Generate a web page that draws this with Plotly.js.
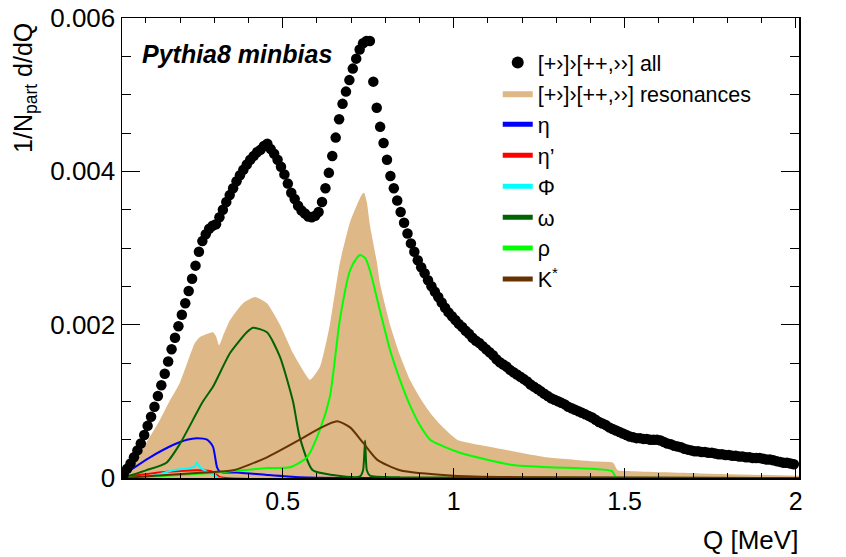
<!DOCTYPE html>
<html><head><meta charset="utf-8">
<script src="https://cdn.plot.ly/plotly-3.0.1.min.js"></script>
<style>html,body{margin:0;padding:0;background:#fff}#chart{width:846px;height:557px}</style>
</head><body><div id="chart"></div>
<script>
// "all" pairs: uniform bins starting at allX0 with width allDx
const allX0 = 0.035, allDx = 0.01;
const allY = [
0.00005,0.00012,0.00019,0.00027,0.00036,0.00045,0.00056,0.00068,0.0008,0.00093,
0.00107,0.00121,0.00136,0.00152,0.00168,0.00183,0.00198,0.00213,0.00228,0.00244,
0.0026,0.00277,0.00295,0.00309,0.00318,0.00325,0.00329,0.00331,0.0034,0.0035,
0.0036,0.00369,0.00378,0.00387,0.00395,0.00402,0.00409,0.00415,0.0042,0.00425,
0.00428,0.00433,0.00436,0.00429,0.00423,0.00415,0.00406,0.00396,0.00384,0.00372,
0.00364,0.00355,0.00349,0.00345,0.00341,0.0034,0.00342,0.00347,0.0036,0.00378,
0.00398,0.0042,0.00444,0.00468,0.00488,0.00504,0.00519,0.00534,0.00547,0.00559,
0.00567,0.0057,0.0057,0.00517,0.00483,0.00458,0.00437,0.00415,0.00394,0.00378,
0.00362,0.00347,0.00333,0.00319,0.00306,0.00295,0.00284,0.00275,0.00267,0.00258,
0.0025,0.00243,0.00236,0.00229,0.00222,0.00216,0.00211,0.00206,0.00201,0.00197,
0.00192,0.00188,0.00183,0.00179,0.00176,0.00172,0.00168,0.00164,0.0016,0.00155,
0.00151,0.00148,0.00145,0.00141,0.00138,0.00135,0.00132,0.00129,0.00126,0.00122,
0.00119,0.00116,0.00113,0.0011,0.00107,0.00104,0.00102,0.001,0.00098,0.00096,
0.00093,0.00091,0.00089,0.00087,0.00085,0.00083,0.00081,0.00079,0.00076,0.00073,
0.00071,0.00069,0.00066,0.00064,0.00062,0.0006,0.00058,0.00056,0.00054,0.00053,
0.00052,0.00052,0.00051,0.00051,0.0005,0.0005,0.0005,0.00049,0.00047,0.00045,
0.00044,0.00042,0.00041,0.0004,0.00038,0.00037,0.00036,0.00035,0.00035,0.00034,
0.00034,0.00033,0.00033,0.00032,0.00031,0.00031,0.0003,0.0003,0.00029,0.00029,
0.00028,0.00028,0.00027,0.00027,0.00026,0.00026,0.00026,0.00025,0.00024,0.00024,
0.00023,0.00022,0.00021,0.0002,0.0002,0.00019,0.00018];

// resonances sum (filled)
const resX = [0.03,0.06,0.1,0.14,0.17,0.2,0.243,0.258,0.273,0.296,0.305,0.314,0.325,0.346,0.384,0.419,0.454,0.492,0.53,0.56,0.58,0.609,0.638,0.667,0.697,0.717,0.732,0.738,0.746,0.755,0.776,0.784,0.814,0.843,0.872,0.901,0.931,0.96,1.01,1.077,1.173,1.273,1.4,1.466,1.48,1.507,1.72,2.01];
const resY = [0,0.00018,0.00045,0.00075,0.00101,0.00125,0.00176,0.00184,0.00187,0.0019,0.00185,0.00173,0.00185,0.00206,0.00228,0.00236,0.00228,0.002,0.00163,0.0014,0.00128,0.00145,0.002,0.0028,0.00334,0.00356,0.0037,0.00372,0.0036,0.0033,0.0028,0.00255,0.002,0.0016,0.00128,0.00105,0.00085,0.0007,0.0005,0.00043,0.00035,0.00027,0.00022,0.0002,0.0001,0.00009,0.00006,0.00003];

const etaX = [0.03,0.112,0.179,0.22,0.249,0.279,0.296,0.308,0.317,0.375,0.454,0.55,0.7,2.01];
const etaY = [0.00003,0.00027,0.00043,0.0005,0.00052,0.0005,0.00041,0.00014,0.00008,0.00007,0.00004,0.00001,0,0];

const etapX = [0.03,0.162,0.258,0.296,0.308,0.317,2.01];
const etapY = [0.00001,0.00008,0.0001,0.00008,0.00004,0.00001,0];

const phiX = [0.03,0.12,0.179,0.229,0.243,0.249,0.258,0.279,0.302,0.311,2.01];
const phiY = [0,0.00003,0.0001,0.00013,0.00015,0.0002,0.00014,0.00008,0.00004,0,0];

const omegaX = [0.03,0.1,0.16,0.2,0.267,0.296,0.346,0.395,0.413,0.454,0.492,0.53,0.55,0.588,0.647,0.726,0.735,0.741,0.746,0.755,0.843,2.01];
const omegaY = [0,0.0001,0.0002,0.00045,0.001,0.00119,0.00163,0.0019,0.00196,0.0019,0.00158,0.001,0.00053,0.0001,0.00004,0.00002,0.0001,0.00049,0.0001,0.00003,0.00001,0];

const rhoX = [0.03,0.2,0.308,0.454,0.521,0.571,0.609,0.638,0.667,0.697,0.717,0.726,0.741,0.755,0.784,0.814,0.843,0.872,0.901,0.931,1.018,1.173,1.281,1.463,1.477,2.01];
const rhoY = [0,0.00004,0.00007,0.00013,0.00014,0.00027,0.00063,0.00106,0.00206,0.00271,0.00287,0.00291,0.00287,0.00271,0.00219,0.00167,0.00128,0.00095,0.00069,0.0005,0.00033,0.00017,0.00014,0.00009,0,0];

const kstX = [0.03,0.258,0.355,0.454,0.55,0.609,0.659,0.697,0.735,0.776,0.843,1.0,1.2,2.01];
const kstY = [0,0.00007,0.0001,0.00027,0.0005,0.00065,0.00074,0.00066,0.00046,0.00024,0.0001,0.00003,0.00001,0];

const labels = {
  all: '[+›]›[++,››] all',
  res: '[+›]›[++,››] resonances',
  eta: 'η', etap: 'η’', phi: 'Φ', omega: 'ω', rho: 'ρ', kst: 'K<sup>*</sup>'
};

const FONT = 'Liberation Sans, Arial, Helvetica, sans-serif';

function lineTrace(x, y, name, color, rank) {
  return {x: x, y: y, name: name, type: 'scatter', mode: 'lines',
    line: {color: color, width: 2, shape: 'spline', smoothing: 0.6},
    legendrank: rank, hoverinfo: 'skip'};
}

const traces = [
  {x: resX, y: resY, name: labels.res, type: 'scatter', mode: 'lines', fill: 'tozeroy',
   fillcolor: '#deb887', line: {color: '#deb887', width: 0, shape: 'spline', smoothing: 0.5}, legendrank: 2},
  lineTrace(etaX, etaY, labels.eta, '#0000ff', 3),
  lineTrace(etapX, etapY, labels.etap, '#ff0000', 4),
  lineTrace(phiX, phiY, labels.phi, '#00ffff', 5),
  lineTrace(omegaX, omegaY, labels.omega, '#006400', 6),
  lineTrace(rhoX, rhoY, labels.rho, '#00ff00', 7),
  lineTrace(kstX, kstY, labels.kst, '#663300', 8),
  {x0: allX0, dx: allDx, y: allY, name: labels.all, type: 'scatter', mode: 'markers',
   marker: {color: '#000', size: 10.5}, legendrank: 1}
];

const layout = {
  width: 846, height: 557,
  margin: {l: 122, r: 47, t: 18, b: 79},
  paper_bgcolor: '#fff', plot_bgcolor: '#fff',
  font: {family: FONT, size: 21.5, color: '#000'},
  showlegend: true,
  legend: {x: 0.555, y: 0.948, xanchor: 'left', yanchor: 'top', bgcolor: 'rgba(0,0,0,0)',
    font: {family: FONT, size: 21.5}, itemsizing: 'constant', tracegroupgap: 0},
  xaxis: {range: [0.03, 2.01], showgrid: false, zeroline: false, showline: true,
    linecolor: '#000', linewidth: 1.5, mirror: 'ticks', ticks: 'inside', ticklen: 10,
    tickcolor: '#000', tickwidth: 1, dtick: 0.5, tick0: 0,
    tickfont: {family: FONT, size: 25},
    minor: {dtick: 0.1, ticks: 'inside', ticklen: 5, tickcolor: '#000'}},
  yaxis: {range: [0, 0.006], showgrid: false, zeroline: false, showline: true,
    linecolor: '#000', linewidth: 1.5, mirror: 'ticks', ticks: 'inside', ticklen: 18,
    tickcolor: '#000', tickwidth: 1, dtick: 0.002, tick0: 0,
    tickfont: {family: FONT, size: 26},
    minor: {dtick: 0.0005, ticks: 'inside', ticklen: 9, tickcolor: '#000'}},
  annotations: [
    {text: '<b><i>Pythia8 minbias</i></b>', xref: 'paper', yref: 'paper', x: 0.027, y: 0.922,
     xanchor: 'left', yanchor: 'middle', showarrow: false, font: {family: FONT, size: 25}},
    {text: 'Q [MeV]', xref: 'paper', yref: 'paper', x: 1.0015, y: -0.135,
     xanchor: 'right', yanchor: 'middle', showarrow: false, font: {family: FONT, size: 26}},
    {text: '1/N<sub>part</sub> d/dQ', xref: 'paper', yref: 'paper', x: -0.1433, y: 0.848,
     xanchor: 'center', yanchor: 'middle', textangle: -90, showarrow: false, font: {family: FONT, size: 25}}
  ]
};

Plotly.newPlot('chart', traces, layout, {displayModeBar: false, staticPlot: true});
</script>
</body></html>
